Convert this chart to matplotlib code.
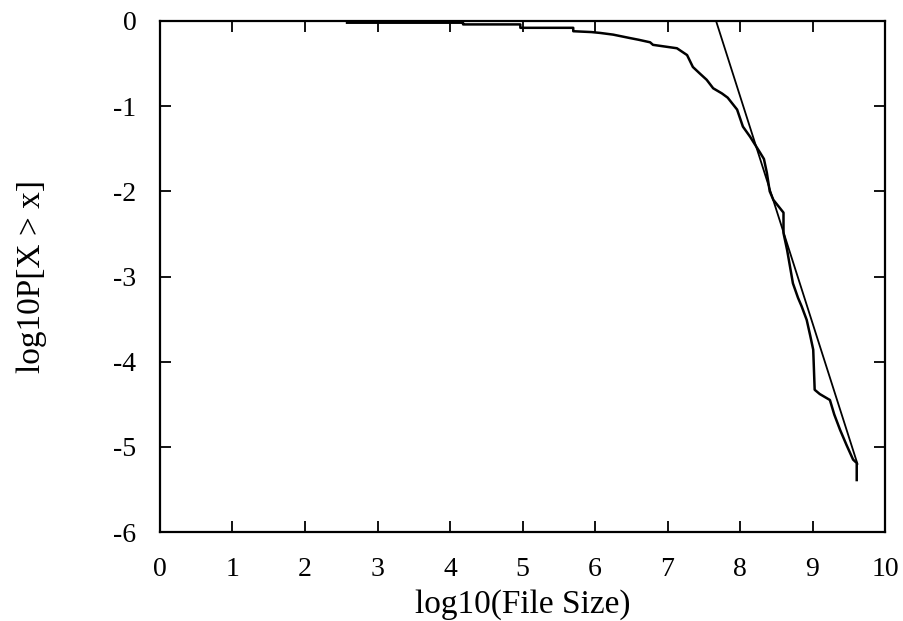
import matplotlib
matplotlib.use("Agg")
import matplotlib.pyplot as plt

# Empirical CCDF (log10 file size vs log10 P[X > x])
ccdf_x = [2.58, 4.18, 4.18, 4.97, 4.97, 5.70, 5.70, 5.95, 6.07, 6.25, 6.48, 6.60, 6.76,
          6.80, 7.13, 7.27, 7.35, 7.45, 7.54, 7.63, 7.75, 7.83, 7.96, 8.04, 8.14,
          8.28, 8.33, 8.37, 8.41, 8.46, 8.60, 8.60, 8.65, 8.73, 8.80, 8.85, 8.92,
          8.97, 9.01, 9.03, 9.10, 9.24, 9.30, 9.38, 9.47, 9.56, 9.61, 9.61]
ccdf_y = [-0.02, -0.02, -0.04, -0.04, -0.08, -0.08, -0.12, -0.13, -0.14, -0.16, -0.20, -0.22, -0.25,
          -0.28, -0.32, -0.40, -0.54, -0.62, -0.69, -0.79, -0.85, -0.90, -1.04, -1.24, -1.36,
          -1.55, -1.62, -1.78, -2.00, -2.10, -2.25, -2.49, -2.69, -3.08, -3.25, -3.35, -3.51,
          -3.70, -3.86, -4.33, -4.38, -4.45, -4.62, -4.80, -4.98, -5.15, -5.19, -5.39]

# Fitted power-law tail line
fit_x = [7.67, 9.62]
fit_y = [0.0, -5.20]

x_ticks = list(range(0, 11))
y_ticks = [0, -1, -2, -3, -4, -5, -6]

plt.rcParams['font.family'] = ['Liberation Serif', 'DejaVu Serif']

fig = plt.figure(figsize=(9.04, 6.21), dpi=100)
ax = fig.add_axes([160 / 904, 1 - 532 / 621, 725 / 904, 511 / 621])

ax.plot(ccdf_x, ccdf_y, color='black', lw=1.8)
ax.plot(fit_x, fit_y, color='black', lw=1.3)

ax.set_xlim(0, 10)
ax.set_ylim(-6, 0)
ax.set_xticks(x_ticks)
ax.set_yticks(y_ticks)
ax.set_xticklabels([str(t) for t in x_ticks])
ax.set_yticklabels([str(t) for t in y_ticks])
ax.tick_params(direction='in', length=8, width=1.3, top=True, right=True,
               labelsize=20)
ax.tick_params(axis='x', pad=18)
ax.tick_params(axis='y', pad=17)
for s in ax.spines.values():
    s.set_linewidth(1.6)

ax.set_xlabel('log10(File Size)', fontsize=24)
ax.set_ylabel('log10P[X > x]', fontsize=24)
ax.xaxis.set_label_coords(0.5, -0.112)
ax.yaxis.set_label_coords(-0.156, 0.5)

fig.savefig('out.png', dpi=100)
